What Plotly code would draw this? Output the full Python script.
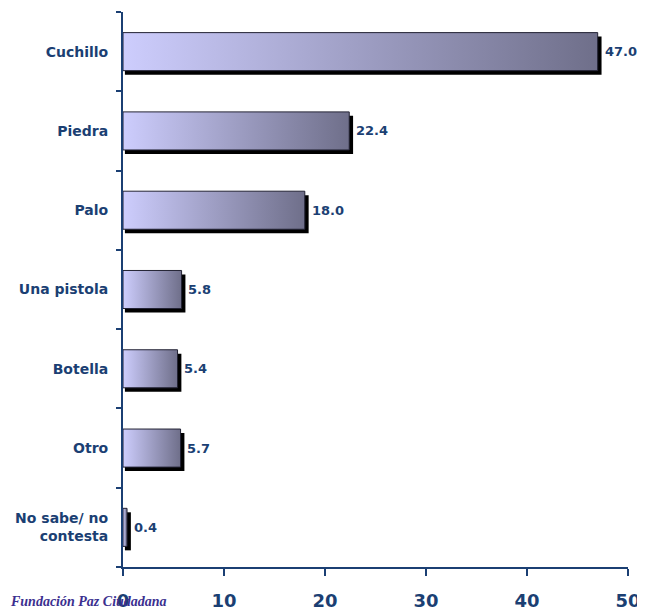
import plotly.graph_objects as go

categories = ["Cuchillo", "Piedra", "Palo", "Una pistola", "Botella", "Otro", "No sabe/ no<br>contesta"]
values = [47.0, 22.4, 18.0, 5.8, 5.4, 5.7, 0.4]
value_labels = ["47.0", "22.4", "18.0", "5.8", "5.4", "5.7", "0.4"]
x_ticks = [0, 10, 20, 30, 40, 50]

NAVY = "#1B3F73"
H = 0.24  # half bar thickness (category units)
SHX = 0.38  # shadow shift along x (data units)
SHY = 0.05  # shadow shift along y (category units)

fig = go.Figure()
pos = list(range(len(categories)))

# shadows
for p, v in zip(pos, values):
    fig.add_trace(go.Scatter(
        x=[SHX * 0.5, v + SHX, v + SHX, SHX * 0.5, SHX * 0.5],
        y=[p - H + SHY, p - H + SHY, p + H + SHY, p + H + SHY, p - H + SHY],
        fill="toself", fillcolor="black", mode="lines",
        line=dict(color="black", width=0), hoverinfo="skip", showlegend=False))

# gradient bars
for p, v in zip(pos, values):
    fig.add_trace(go.Scatter(
        x=[0, v, v, 0, 0],
        y=[p - H, p - H, p + H, p + H, p - H],
        fill="toself", mode="lines",
        fillgradient=dict(type="horizontal",
                          colorscale=[[0, "#CDCDFD"], [1, "#6F6F8A"]]),
        line=dict(color="#222233", width=1), hoverinfo="skip", showlegend=False))

# value labels
for p, v, t in zip(pos, values, value_labels):
    fig.add_annotation(x=v + SHX, y=p, text="<b>" + t + "</b>", xanchor="left",
                       yanchor="middle", showarrow=False, xshift=1,
                       font=dict(family="DejaVu Sans", size=13, color=NAVY))

fig.add_annotation(xref="paper", yref="paper", x=-0.2277, y=-0.062,
                   xanchor="left", yanchor="middle", showarrow=False,
                   text="<b><i>Fundación Paz Ciudadana</i></b>",
                   font=dict(family="Liberation Serif", size=14, color="#3B2F8F"))

fig.update_layout(
    width=637, height=603,
    margin=dict(l=115, r=17, t=4, b=44),
    plot_bgcolor="white", paper_bgcolor="white",
    showlegend=False,
    xaxis=dict(range=[0, 50], tickvals=x_ticks, showgrid=False, zeroline=False,
               showline=True, linecolor=NAVY, linewidth=2, automargin=False,
               ticks="outside", ticklen=7, tickwidth=1.5, tickcolor=NAVY,
               ticklabelstandoff=9,
               tickfont=dict(family="DejaVu Sans", size=18, color=NAVY, weight="bold")),
    yaxis=dict(range=[6.5, -0.5], tickvals=pos, ticktext=categories,
               showgrid=False, zeroline=False, showline=True, linecolor=NAVY, linewidth=2,
               automargin=False,
               ticks="outside", ticklen=0, tickcolor=NAVY, ticklabelstandoff=10,
               tickfont=dict(family="DejaVu Sans", size=14, color=NAVY, weight="bold"),
               minor=dict(tickvals=[i + 0.5 for i in range(-1, 7)], ticks="outside",
                          ticklen=5, tickwidth=1.5, tickcolor=NAVY)),
)

fig.write_html("out.html")
